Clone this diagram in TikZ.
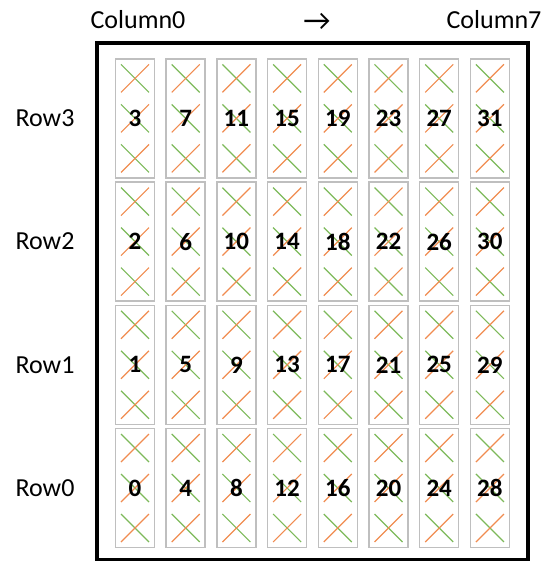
\documentclass[tikz,border=0pt]{standalone}
\usepackage{fontspec}
\setmainfont{Carlito}
\usetikzlibrary{positioning, calc}
\definecolor{crossgreen}{RGB}{125,185,90}
\definecolor{crossorange}{RGB}{240,140,80}
\definecolor{cellgray}{RGB}{191,191,191}

\begin{document}
\begin{tikzpicture}[x=1pt, y=-1pt,
    cellbox/.style={draw=cellgray, line width=1.5pt, minimum width=39pt, minimum height=119pt, inner sep=0pt},
    cellnum/.style={font=\fontsize{25}{30}\selectfont\bfseries, inner sep=0pt},
    axislabel/.style={font=\fontsize{26}{30}\selectfont, inner sep=0pt},
    crossline/.style={line width=1.2pt}]
    \useasboundingbox (0,0) rectangle (546,561);

    % Outer frame
    \draw[line width=3.5pt] (97,43) rectangle (528,559.5);

    % Column labels
    \node[axislabel, anchor=base] (col0) at (138,29) {Column0};
    \node[axislabel, anchor=base] (col7) at (494,29) {Column7};
    \node[axislabel, font=\fontsize{30}{30}\selectfont] (dir) at (317,22) {→};

    % Row labels
    \foreach \r in {0,...,3}
        \node[axislabel] (row\r) at (45, {488-123.2*\r}) {Row\r};

    % Cells with crosses
    \foreach \c in {0,...,7}{
        \foreach \r in {0,...,3}{
            \pgfmathtruncatemacro{\num}{4*\c+\r}
            \node[cellbox] (cell\num) at ({135+50.7*\c}, {488-123.2*\r}) {};
            \foreach \dy in {-40,0,40}{
                \draw[crossline, crossgreen] ($(cell\num.center)+(-14,\dy-14)$) -- ++(28,28);
                \draw[crossline, crossorange] ($(cell\num.center)+(-14,\dy+14)$) -- ++(28,-28);
            }
            \node[cellnum] (num\num) at (cell\num.center) {\num};
        }
    }
\end{tikzpicture}
\end{document}
